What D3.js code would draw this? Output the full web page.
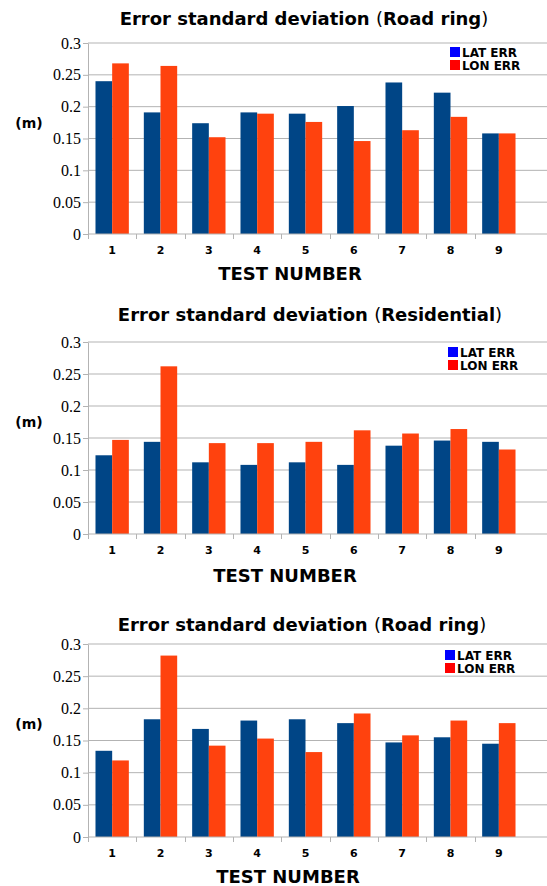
<!DOCTYPE html>
<meta charset="utf-8">
<script src="https://d3js.org/d3.v7.min.js"></script>
<style>
  body { margin: 0; background: #fff; }
</style>
<div id="my_dataviz"></div>
<script>

// data
var tests = ["1", "2", "3", "4", "5", "6", "7", "8", "9"];
var yTicks = [0, 0.05, 0.1, 0.15, 0.2, 0.25, 0.3];
var seriesNames = ["LAT ERR", "LON ERR"];

var roadRingLat = [0.240, 0.191, 0.174, 0.191, 0.189, 0.201, 0.238, 0.222, 0.158];
var roadRingLon = [0.268, 0.264, 0.152, 0.189, 0.176, 0.146, 0.163, 0.184, 0.158];

var residentialLat = [0.123, 0.144, 0.112, 0.108, 0.112, 0.108, 0.138, 0.146, 0.144];
var residentialLon = [0.147, 0.262, 0.142, 0.142, 0.144, 0.162, 0.157, 0.164, 0.132];

var roadRing2Lat = [0.134, 0.183, 0.168, 0.181, 0.183, 0.177, 0.147, 0.155, 0.145];
var roadRing2Lon = [0.119, 0.282, 0.142, 0.153, 0.132, 0.192, 0.158, 0.181, 0.177];

var barColors = ["#004586", "#ff420e"];
var legendColors = ["#0000ff", "#ff0000"];

var W = 547, H = 886;

var svg = d3.select("#my_dataviz")
  .append("svg")
    .attr("width", W)
    .attr("height", H);

// one panel
function drawChart(opt) {
  var g = svg.append("g");

  var x = d3.scaleBand()
    .domain(tests)
    .range([88, 523])
    .paddingInner(0.31)
    .paddingOuter(0.155);

  var xSub = d3.scaleBand()
    .domain(seriesNames)
    .range([0, x.bandwidth()]);

  var y = d3.scaleLinear()
    .domain([0, 0.3])
    .range([opt.bottom, opt.top]);

  // gridlines
  g.append("g")
    .selectAll("line")
    .data(yTicks.slice(1))
    .enter()
    .append("line")
      .attr("x1", 88)
      .attr("x2", W)
      .attr("y1", function(d) { return y(d); })
      .attr("y2", function(d) { return y(d); })
      .style("stroke", "#b3b3b3")
      .style("stroke-width", 1);

  // y axis
  var yAxis = g.append("g")
    .attr("transform", "translate(88,0)")
    .call(d3.axisLeft(y).tickValues(yTicks).tickSize(5).tickSizeOuter(0).tickPadding(2)
      .tickFormat(function(d) { return String(+d.toFixed(2)); }));
  yAxis.select(".domain").style("stroke", "#b3b3b3");
  yAxis.selectAll(".tick line").style("stroke", "#b3b3b3");
  yAxis.selectAll("text")
    .style("font-family", "'Liberation Serif', serif")
    .style("font-size", "16px")
    .style("fill", "#000");

  // bars
  var rows = tests.map(function(t, i) {
    return {test: t, values: [opt.lat[i], opt.lon[i]]};
  });
  g.append("g")
    .selectAll("g")
    .data(rows)
    .enter()
    .append("g")
      .attr("transform", function(d) { return "translate(" + x(d.test) + ",0)"; })
    .selectAll("rect")
    .data(function(d) { return d.values.map(function(v, k) { return {key: seriesNames[k], v: v, k: k}; }); })
    .enter()
    .append("rect")
      .attr("x", function(d) { return xSub(d.key); })
      .attr("width", xSub.bandwidth())
      .attr("y", function(d) { return y(d.v); })
      .attr("height", function(d) { return y(0) - y(d.v); })
      .style("fill", function(d) { return barColors[d.k]; });

  // x axis baseline and ticks between categories
  var gap = (x.step() - x.bandwidth()) / 2;
  var bounds = tests.map(function(t) { return x(t) - gap; });
  g.append("line")
    .attr("x1", 88).attr("x2", W)
    .attr("y1", y(0)).attr("y2", y(0))
    .style("stroke", "#b3b3b3");
  g.append("g")
    .selectAll("line")
    .data(bounds)
    .enter()
    .append("line")
      .attr("x1", function(d) { return Math.round(d) + 0.5; })
      .attr("x2", function(d) { return Math.round(d) + 0.5; })
      .attr("y1", y(0))
      .attr("y2", y(0) + 5)
      .style("stroke", "#b3b3b3");

  g.append("g")
    .selectAll("text")
    .data(tests)
    .enter()
    .append("text")
      .attr("x", function(d) { return x(d) + x.bandwidth() / 2; })
      .attr("y", y(0) + 20)
      .attr("text-anchor", "middle")
      .style("font-family", "'DejaVu Sans', sans-serif")
      .style("font-weight", "bold")
      .style("font-size", "11px")
      .text(function(d) { return d; });

  // titles
  var title = g.append("text")
    .attr("x", opt.titleX)
    .attr("y", opt.titleY)
    .attr("text-anchor", "middle")
    .style("font-family", "'DejaVu Sans', sans-serif")
    .style("font-weight", "bold")
    .style("font-size", "18px");
  title.append("tspan").text("Error standard deviation ");
  title.append("tspan").style("font-weight", "normal").text("(");
  title.append("tspan").text(opt.place);
  title.append("tspan").style("font-weight", "normal").text(")");

  g.append("text")
    .attr("x", 29)
    .attr("y", y(0.175) + 5)
    .attr("text-anchor", "middle")
    .style("font-family", "'DejaVu Sans', sans-serif")
    .style("font-weight", "bold")
    .style("font-size", "14px")
    .text("(m)");

  g.append("text")
    .attr("x", opt.xLabelX)
    .attr("y", opt.xLabelY)
    .attr("text-anchor", "middle")
    .style("font-family", "'DejaVu Sans', sans-serif")
    .style("font-weight", "bold")
    .style("font-size", "18px")
    .text("TEST NUMBER");

  // legend
  var lg = g.append("g")
    .attr("transform", "translate(" + opt.legendX + "," + opt.legendY + ")");
  lg.selectAll("rect")
    .data(seriesNames)
    .enter()
    .append("rect")
      .attr("x", 0)
      .attr("y", function(d, i) { return i * 13; })
      .attr("width", 10)
      .attr("height", 10)
      .style("fill", function(d, i) { return legendColors[i]; });
  lg.selectAll("text")
    .data(seriesNames)
    .enter()
    .append("text")
      .attr("x", 12)
      .attr("y", function(d, i) { return i * 13 + 10; })
      .style("font-family", "'DejaVu Sans', sans-serif")
      .style("font-weight", "bold")
      .style("font-size", "12px")
      .text(function(d) { return d; });
}

drawChart({lat: roadRingLat, lon: roadRingLon, place: "Road ring",
  top: 43, bottom: 234, titleX: 304, titleY: 25,
  xLabelX: 290, xLabelY: 280, legendX: 450, legendY: 47});

drawChart({lat: residentialLat, lon: residentialLon, place: "Residential",
  top: 342, bottom: 534, titleX: 310, titleY: 321,
  xLabelX: 285, xLabelY: 582, legendX: 448, legendY: 347});

drawChart({lat: roadRing2Lat, lon: roadRing2Lon, place: "Road ring",
  top: 644, bottom: 837, titleX: 302, titleY: 631,
  xLabelX: 288, xLabelY: 883, legendX: 445, legendY: 650});

</script>
